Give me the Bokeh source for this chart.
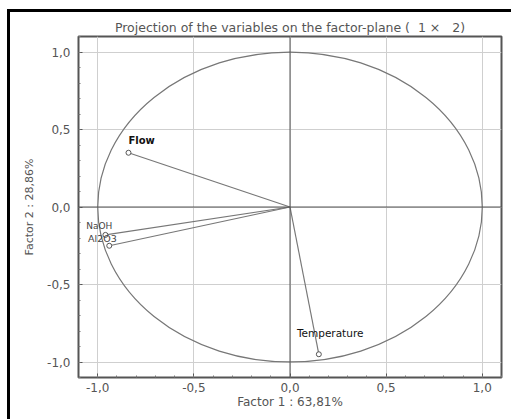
import numpy as np
from bokeh.plotting import figure
from bokeh.layouts import column
from bokeh.models import CustomJSTickFormatter, FixedTicker, ColumnDataSource, Span
from bokeh.core.properties import value
from bokeh.embed import file_html
from bokeh.resources import INLINE

variables = ["Flow", "NaOH", "Al2O3", "Temperature"]
factor1 = [-0.84, -0.96, -0.94, 0.15]
factor2 = [0.35, -0.18, -0.25, -0.95]
label_dx = [-0.84, -1.06, -1.05, 0.036]
label_dy = [0.43, -0.12, -0.20, -0.81]
label_bold = ["bold", "normal", "normal", "normal"]
label_color = ["#111111", "#444444", "#444444", "#111111"]
label_size = ["10px", "9px", "9.5px", "10.5px"]
ticks = [-1.0, -0.5, 0.0, 0.5, 1.0]
minor = [round(v, 1) for v in np.arange(-1.1, 1.11, 0.1)]

FONT = "DejaVu Sans"

p = figure(width=501, height=407, x_range=(-1.1, 1.1), y_range=(-1.1, 1.1),
           output_backend="svg", toolbar_location=None,
           title="Projection of the variables on the factor-plane (\u00a0\u00a01\u00a0\u00d7\u00a0\u00a0\u00a02)",
           min_border_left=68, min_border_right=10, min_border_top=24, min_border_bottom=42)

p.title.align = "center"
p.title.vertical_align = "top"
p.title.text_font = FONT
p.title.text_font_size = "12.5px"
p.title.text_font_style = "normal"
p.title.text_color = "#555555"
p.title.offset = 0
p.title.standoff = 0

fmt = CustomJSTickFormatter(code="return tick.toFixed(1).replace('.', ',');")
for ax in (p.xaxis, p.yaxis):
    ax.ticker = FixedTicker(ticks=ticks, minor_ticks=minor)
    ax.formatter = fmt
    ax.major_tick_in = 4
    ax.major_tick_out = 0
    ax.minor_tick_in = 2
    ax.minor_tick_out = 0
    ax.major_label_text_font = FONT
    ax.major_label_text_font_size = "12px"
    ax.major_label_text_color = "#555555"
    ax.axis_label_text_font = FONT
    ax.axis_label_text_font_style = "normal"
    ax.axis_label_text_color = "#555555"
    ax.axis_line_color = "#555555"
    ax.major_tick_line_color = "#555555"
    ax.minor_tick_line_color = "#777777"

p.xaxis.axis_label = "Factor 1 : 63,81%"
p.yaxis.axis_label = "Factor 2 : 28,86%"
p.xaxis.axis_label_text_font_size = "12px"
p.yaxis.axis_label_text_font_size = "11px"
p.xaxis.major_label_standoff = 5
p.yaxis.major_label_standoff = 8
p.xaxis.axis_label_standoff = 0
p.yaxis.axis_label_standoff = 8

p.outline_line_color = "#555555"
p.outline_line_width = 2
for g in (p.xgrid, p.ygrid):
    g.ticker = FixedTicker(ticks=ticks)
    g.grid_line_color = "#cfcfcf"
    g.grid_line_width = 1

p.add_layout(Span(location=0, dimension="width", line_color="#555555", line_width=1))
p.add_layout(Span(location=0, dimension="height", line_color="#555555", line_width=1))

p.ellipse(x=[0], y=[0], width=2.0, height=2.0, fill_color=None, line_color="#777777", line_width=1.2)

src = ColumnDataSource(dict(x0=[0.0] * len(variables), y0=[0.0] * len(variables),
                            x=factor1, y=factor2, name=variables,
                            lx=label_dx, ly=label_dy, fs=label_bold, tc=label_color, ts=label_size))
p.segment(x0="x0", y0="y0", x1="x", y1="y", source=src, line_color="#777777", line_width=1.2)
p.scatter(x="x", y="y", source=src, size=5, marker="circle", fill_color="white",
          line_color="#555555", line_width=1)
p.text(x="lx", y="ly", text="name", source=src, text_font=value(FONT),
       text_font_size="ts", text_font_style="fs", text_color="tc",
       text_baseline="middle", text_align="left")

page = column(p, margin=(9, 0, 0, 7),
              styles={"border-top": "3px solid black", "border-left": "3px solid black"})

open("out.html", "w").write(file_html(page, INLINE))
